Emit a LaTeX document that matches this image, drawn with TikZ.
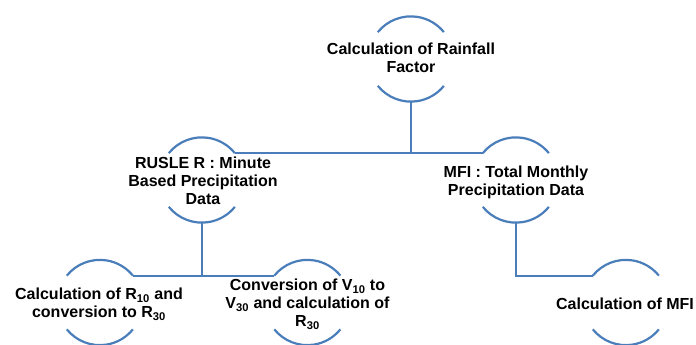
\documentclass[tikz,border=0pt]{standalone}
\usepackage{fontspec}
\setmainfont{Liberation Sans}
\definecolor{ln}{HTML}{4A7EBB}
\begin{document}
\begin{tikzpicture}[x=1pt,y=1pt,
  circ/.style={circle, minimum size=85pt, inner sep=0pt},
  lbl/.style={font=\bfseries\fontsize{16}{18}\selectfont, align=center, text=black, inner sep=0pt},
  conn/.style={draw=ln, line width=2.2pt}]
\useasboundingbox (0,0) rectangle (696,-345);
% circle frames
\node[circ] (top)     at (411,-59) {};
\node[circ] (rusle)   at (202,-180) {};
\node[circ] (mfi)     at (516,-180) {};
\node[circ] (calcR)   at (100,-302.5) {};
\node[circ] (conv)    at (307.5,-302.5) {};
\node[circ] (calcMFI) at (626,-302.5) {};
\foreach \n in {top,rusle,mfi,calcR,conv,calcMFI}{
  \draw[conn] (\n.141) arc[start angle=141, end angle=39, radius=42.5pt];
  \draw[conn] (\n.-141) arc[start angle=-141, end angle=-39, radius=42.5pt];
}
% labels
\node[lbl] (topt) at (411,-58) {Calculation of Rainfall\\Factor};
\node[lbl] (ruslet) at (203,-181) {RUSLE R : Minute\\Based Precipitation\\Data};
\node[lbl] (mfit) at (516,-182) {MFI : Total Monthly\\Precipitation Data};
\node[lbl] (calcRt) at (99,-304) {Calculation of R\textsubscript{10} and\\conversion to R\textsubscript{30}};
\node[lbl] (convt) at (307.5,-304) {Conversion of V\textsubscript{10} to\\V\textsubscript{30} and calculation of\\R\textsubscript{30}};
\node[lbl] (calcMFIt) at (625,-304) {Calculation of MFI};
% connectors
\draw[conn] (top.south) -- (top.south |- rusle.39);
\draw[conn] (rusle.39) -- (mfi.141);
\draw[conn] (rusle.south) -- (rusle.south |- calcR.39);
\draw[conn] (calcR.39) -- (conv.141);
\draw[conn] (mfi.south) |- (calcMFI.141);
\end{tikzpicture}
\end{document}
